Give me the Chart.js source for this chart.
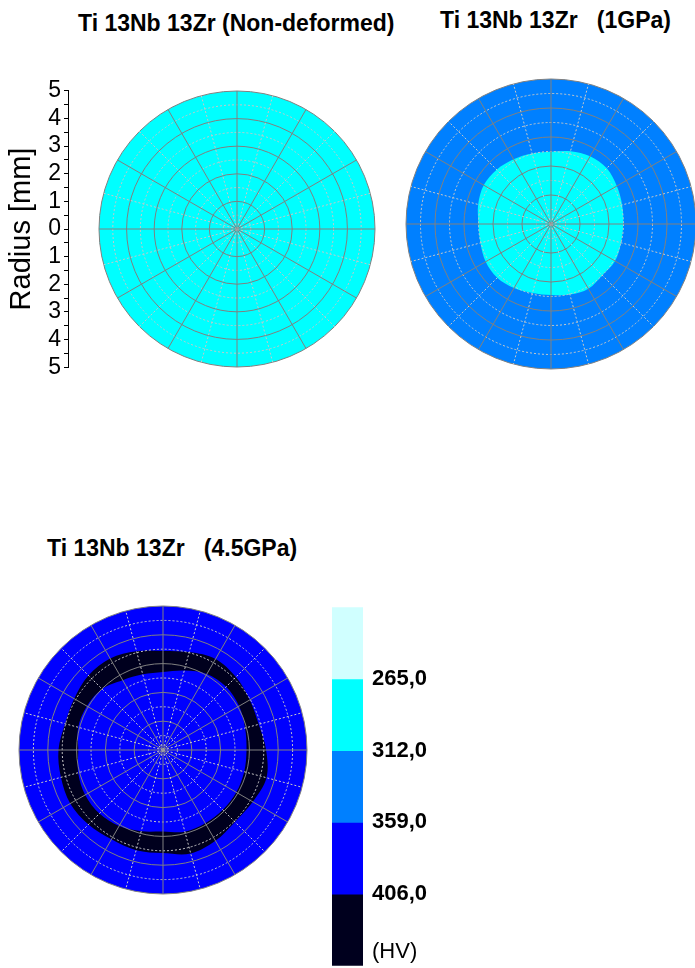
<!DOCTYPE html>
<html>
<head>
<meta charset="utf-8">
<script src="https://cdn.jsdelivr.net/npm/chart.js@4.4.1/dist/chart.umd.min.js"></script>
<style>
	html, body { margin: 0; padding: 0; background: #ffffff; width: 695px; height: 968px; overflow: hidden; }
	body { position: relative; font-family: Arial, "Liberation Sans", sans-serif; }
	.caja { position: absolute; }
	.titulo { position: absolute; font-weight: bold; font-size: 23px; color: #000000; white-space: pre; line-height: 26px; }
</style>
</head>
<body>
<div class="titulo" style="left:78px; top:10px;">Ti 13Nb 13Zr (Non-deformed)</div>
<div class="titulo" style="left:440px; top:7px;">Ti 13Nb 13Zr   (1GPa)</div>
<div class="titulo" style="left:47px; top:535px;">Ti 13Nb 13Zr   (4.5GPa)</div>

<div class="caja" style="left:0px; top:74px; width:409px; height:310px;"><canvas id="mapaNoDef"></canvas></div>
<div class="caja" style="left:404px; top:77px; width:294px; height:294px;"><canvas id="mapa1GPa"></canvas></div>
<div class="caja" style="left:17px; top:604px; width:292px; height:292px;"><canvas id="mapa45GPa"></canvas></div>
<div class="caja" style="left:330px; top:594px; width:140px; height:385px;"><canvas id="barraHV"></canvas></div>

<script>
//main Datos
//* Ángulos de medición (cada 15°, empezando arriba, sentido horario)
const angulos = ["0°", "15°", "30°", "45°", "60°", "75°", "90°", "105°", "120°", "135°", "150°", "165°",
	"180°", "195°", "210°", "225°", "240°", "255°", "270°", "285°", "300°", "315°", "330°", "345°"];
//* Radio máximo de la muestra [mm]
const radioMax = 5;
//* Límites de dureza entre bandas (HV)
const limitesHV = [265.0, 312.0, 359.0, 406.0];
//* Colores de las bandas, de la más blanda a la más dura
const coloresBanda = ["#d0ffff", "#00ffff", "#0080ff", "#0000ff", "#00001e"];
//* Ancho de cada banda en la barra de colores
const anchoBanda = [1, 1, 1, 1, 1];
//* Banda de fondo de cada muestra (índice en coloresBanda)
const fondoNoDef = 1;
const fondo1GPa = 2;
const fondo45GPa = 3;
//* 1GPa: borde de la zona central blanda (banda 1) [mm]
const borde1GPa = [2.49, 2.6, 2.7, 2.72, 2.62, 2.54, 2.49, 2.5, 2.55, 2.5, 2.58, 2.52,
	2.45, 2.46, 2.55, 2.62, 2.6, 2.52, 2.5, 2.6, 2.68, 2.65, 2.58, 2.52];
//* 4.5GPa: anillo duro (banda 4), borde exterior e interior [mm]
const anilloExt45 = [3.44, 3.52, 3.65, 3.58, 3.48, 3.44, 3.58, 3.72, 3.6, 3.53, 3.64, 3.72,
	3.58, 3.6, 3.58, 3.66, 3.72, 3.67, 3.63, 3.52, 3.56, 3.66, 3.67, 3.55];
const anilloInt45 = [2.71, 2.86, 3.05, 3.1, 3.05, 2.95, 2.9, 2.92, 2.94, 2.94, 2.94, 2.94,
	2.83, 2.92, 3.05, 3.12, 3.12, 3.05, 2.94, 3.05, 3.05, 3.0, 2.8, 2.72];

//* Estilos comunes
const fuente = 'Arial, "Liberation Sans", sans-serif';
const grisFuerte = "#808080";
const grisPunteado = "#c8c8c8";

//* Pintamos el disco de fondo con la escala radial
const discoBase = {
	id: "discoBase",
	beforeDatasetsDraw(chart, args, opts) {
		const r = chart.scales.r;
		const ctx = chart.ctx;
		ctx.save();
		ctx.beginPath();
		ctx.arc(r.xCenter, r.yCenter, r.getDistanceFromCenterForValue(r.max), 0, Math.PI * 2);
		ctx.fillStyle = opts.color;
		ctx.fill();
		ctx.restore();
	},
};

//funcion Escala radial con rejilla encima de los colores
function escalaRadial() {
	return {
		min: 0,
		max: radioMax,
		startAngle: 0,
		ticks: { display: false, stepSize: 0.5 },
		pointLabels: { display: false },
		grid: {
			circular: true,
			z: 1,
			lineWidth: 1,
			color: (c) => (Number.isInteger(c.tick.value) ? grisFuerte : grisPunteado),
		},
		border: {
			dash: (c) => (Number.isInteger(c.tick.value) ? [] : [2, 2]),
		},
		angleLines: {
			display: true,
			lineWidth: 1,
			color: (c) => (c.index % 2 === 0 ? grisFuerte : grisPunteado),
			borderDash: (c) => (c.index % 2 === 0 ? [] : [2, 2]),
		},
	};
}

//funcion Zona de contorno rellena hasta el centro
function zona(datos, banda, orden) {
	return {
		data: datos,
		fill: "origin",
		backgroundColor: coloresBanda[banda],
		borderWidth: 0,
		pointRadius: 0,
		tension: 0.34,
		order: orden,
	};
}

//funcion Opciones base de un mapa polar
function opcionesMapa(banda) {
	return {
		responsive: true,
		maintainAspectRatio: false,
		animation: false,
		events: [],
		layout: { padding: 2 },
		plugins: {
			legend: { display: false },
			tooltip: { enabled: false },
			discoBase: { color: coloresBanda[banda] },
		},
		scales: { r: escalaRadial() },
	};
}

//* Mapa sin deformar, con eje de radio a la izquierda
const opcNoDef = opcionesMapa(fondoNoDef);
opcNoDef.layout = { padding: { top: 15, bottom: 15, left: 0, right: 2 } };
opcNoDef.scales.y = {
	type: "linear",
	position: "left",
	min: -radioMax,
	max: radioMax,
	afterFit: (s) => {
		s.width = 68;
	},
	grid: { display: true, drawOnChartArea: false, drawTicks: true, tickLength: 4, tickColor: "#000000" },
	border: { display: true, color: "#000000", width: 1 },
	ticks: {
		stepSize: 0.5,
		autoSkip: false,
		padding: 3,
		color: "#000000",
		font: { family: fuente, size: 23 },
		callback: (v) => (Number.isInteger(v) ? String(Math.abs(v)) : ""),
	},
	title: {
		display: true,
		text: "Radius [mm]",
		color: "#000000",
		font: { family: fuente, size: 29 },
		padding: { top: 5, bottom: 0 },
	},
};
new Chart(document.getElementById("mapaNoDef"), {
	type: "radar",
	data: { labels: angulos, datasets: [] },
	options: opcNoDef,
	plugins: [discoBase],
});

//* Mapa 1GPa
new Chart(document.getElementById("mapa1GPa"), {
	type: "radar",
	data: { labels: angulos, datasets: [zona(borde1GPa, 1, 1)] },
	options: opcionesMapa(fondo1GPa),
	plugins: [discoBase],
});

//* Mapa 4.5GPa
new Chart(document.getElementById("mapa45GPa"), {
	type: "radar",
	data: {
		labels: angulos,
		datasets: [zona(anilloInt45, fondo45GPa, 1), zona(anilloExt45, 4, 2)],
	},
	options: opcionesMapa(fondo45GPa),
	plugins: [discoBase],
});

//* Barra de colores con los límites de dureza
const posUnidad = 4.8;
new Chart(document.getElementById("barraHV"), {
	type: "bar",
	data: {
		labels: ["HV"],
		datasets: coloresBanda.map((c, i) => ({
			data: [anchoBanda[i]],
			backgroundColor: c,
			borderWidth: 0,
			barPercentage: 1,
			categoryPercentage: 1,
		})),
	},
	options: {
		responsive: true,
		maintainAspectRatio: false,
		animation: false,
		events: [],
		layout: { padding: { top: 13, bottom: 2, left: 2, right: 0 } },
		plugins: { legend: { display: false }, tooltip: { enabled: false } },
		scales: {
			x: { display: false, stacked: true },
			y: {
				stacked: true,
				reverse: true,
				min: 0,
				max: anchoBanda.length,
				position: "right",
				//* Las marcas no se ven, solo separan las etiquetas de la barra
				grid: { display: false, drawTicks: true, tickLength: 9 },
				border: { display: false },
				afterFit: (s) => {
					s.width = 107;
				},
				afterBuildTicks: (s) => {
					const t = limitesHV.map((v, i) => ({ value: i + 1 }));
					t.push({ value: posUnidad });
					s.ticks = t;
				},
				ticks: {
					autoSkip: false,
					padding: 0,
					color: "#000000",
					font: (c) => ({ family: fuente, size: 22, weight: c.index < limitesHV.length ? "bold" : "normal" }),
					callback: (v, i) => (i < limitesHV.length ? limitesHV[i].toFixed(1).replace(".", ",") : "(HV)"),
				},
			},
		},
	},
});
</script>
</body>
</html>
